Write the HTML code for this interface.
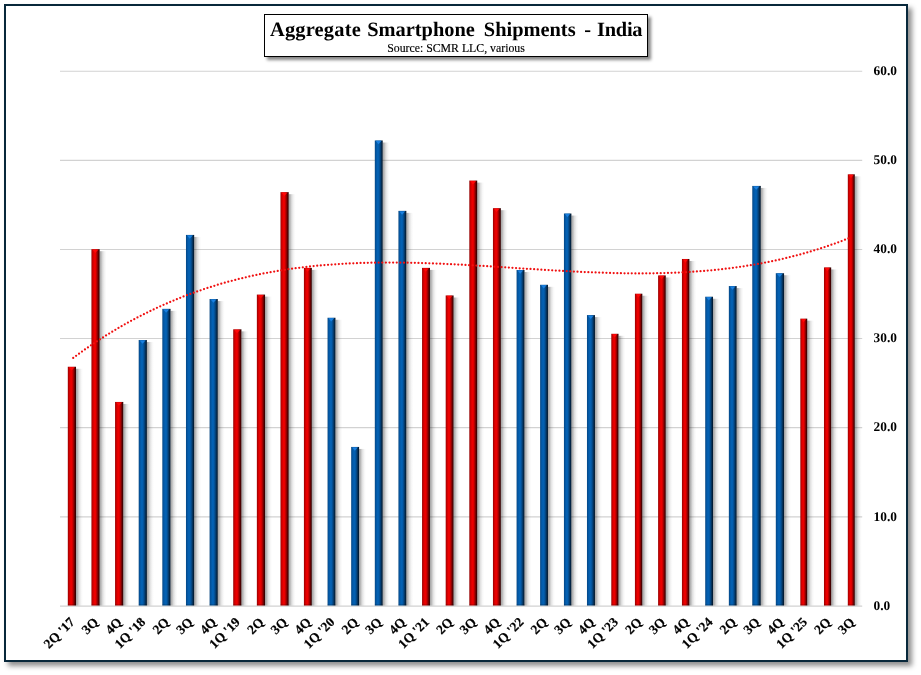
<!DOCTYPE html>
<html><head><meta charset="utf-8"><title>Aggregate Smartphone Shipments - India</title>
<style>
html,body{margin:0;padding:0;background:#fff;}
body{width:921px;height:675px;position:relative;overflow:hidden;font-family:"Liberation Serif",serif;}
#frame{position:absolute;left:4px;top:4px;width:904px;height:658px;box-sizing:border-box;border:2px solid #08283b;background:#fff;box-shadow:4px 4px 5px rgba(0,0,0,0.44);}
#title{position:absolute;left:264px;top:14px;width:384px;height:43px;box-sizing:border-box;border:1.3px solid #000;background:#fff;box-shadow:3px 3px 3px rgba(0,0,0,0.48);text-align:center;}
#title h1{margin:0;text-rendering:geometricPrecision;font-size:20.4px;line-height:24px;font-weight:bold;position:absolute;left:0;right:0;top:3.2px;height:24px;white-space:nowrap;}
#title h1 span{position:absolute;top:0;}
#title p{margin:0;-webkit-text-stroke:0.15px #000;font-size:11.8px;line-height:12px;position:absolute;left:0;right:0;top:27px;white-space:nowrap;}
svg{position:absolute;left:0;top:0;}
</style></head><body>
<div id="frame"></div>
<svg width="921" height="675" viewBox="0 0 921 675">
<defs>
<linearGradient id="gR" x1="0" x2="1" y1="0" y2="0"><stop offset="0" stop-color="#8e0000"/><stop offset="0.13" stop-color="#c40000"/><stop offset="0.36" stop-color="#ee0000"/><stop offset="0.5" stop-color="#e80000"/><stop offset="0.66" stop-color="#b00000"/><stop offset="0.8" stop-color="#740000"/><stop offset="0.92" stop-color="#3e0000"/><stop offset="1" stop-color="#2c0000"/></linearGradient>
<linearGradient id="gB" x1="0" x2="1" y1="0" y2="0"><stop offset="0" stop-color="#04447f"/><stop offset="0.13" stop-color="#04549e"/><stop offset="0.36" stop-color="#0462b4"/><stop offset="0.5" stop-color="#045eae"/><stop offset="0.66" stop-color="#044a8a"/><stop offset="0.8" stop-color="#04335e"/><stop offset="0.92" stop-color="#031e38"/><stop offset="1" stop-color="#02152a"/></linearGradient>
<linearGradient id="gS" x1="0" x2="1" y1="0" y2="0"><stop offset="0" stop-color="#000" stop-opacity="0.36"/><stop offset="0.2" stop-color="#000" stop-opacity="0.28"/><stop offset="0.45" stop-color="#000" stop-opacity="0.12"/><stop offset="0.75" stop-color="#000" stop-opacity="0.03"/><stop offset="1" stop-color="#000" stop-opacity="0"/></linearGradient>
<linearGradient id="gT" x1="0" x2="0" y1="0" y2="1"><stop offset="0" stop-color="#000" stop-opacity="0.12"/><stop offset="1" stop-color="#000" stop-opacity="0"/></linearGradient>
</defs>

<g stroke="#d2d2d2" stroke-width="1.1">
<line x1="60" x2="862.2" y1="606.15" y2="606.15"/>
<line x1="60" x2="862.2" y1="516.90" y2="516.90"/>
<line x1="60" x2="862.2" y1="427.60" y2="427.60"/>
<line x1="60" x2="862.2" y1="338.45" y2="338.45"/>
<line x1="60" x2="862.2" y1="249.50" y2="249.50"/>
<line x1="60" x2="862.2" y1="160.40" y2="160.40"/>
<line x1="60" x2="862.2" y1="71.25" y2="71.25"/>
</g>
<rect x="76.02" y="368.77" width="7" height="236.73" fill="url(#gS)"/>
<rect x="67.81" y="366.77" width="8.2" height="238.73" fill="url(#gR)"/>
<path d="M68.61 367.07 L74.81 367.07 L71.61 370.57 Z" fill="#ff0808"/>
<rect x="67.81" y="366.77" width="8.2" height="1.2" fill="url(#gT)"/>
<rect x="67.81" y="604.30" width="8.2" height="1.2" fill="#000" fill-opacity="0.2"/>
<rect x="99.64" y="251.18" width="7" height="354.32" fill="url(#gS)"/>
<rect x="91.44" y="249.18" width="8.2" height="356.32" fill="url(#gR)"/>
<path d="M92.24 249.48 L98.44 249.48 L95.24 252.98 Z" fill="#ff0808"/>
<rect x="91.44" y="249.18" width="8.2" height="1.2" fill="url(#gT)"/>
<rect x="91.44" y="604.30" width="8.2" height="1.2" fill="#000" fill-opacity="0.2"/>
<rect x="123.27" y="403.95" width="7" height="201.55" fill="url(#gS)"/>
<rect x="115.07" y="401.95" width="8.2" height="203.55" fill="url(#gR)"/>
<path d="M115.87 402.25 L122.07 402.25 L118.87 405.75 Z" fill="#ff0808"/>
<rect x="115.07" y="401.95" width="8.2" height="1.2" fill="url(#gT)"/>
<rect x="115.07" y="604.30" width="8.2" height="1.2" fill="#000" fill-opacity="0.2"/>
<rect x="146.90" y="342.04" width="7" height="263.46" fill="url(#gS)"/>
<rect x="138.70" y="340.04" width="8.2" height="265.46" fill="url(#gB)"/>
<path d="M139.50 340.34 L145.70 340.34 L142.50 343.84 Z" fill="#1a80e0"/>
<rect x="138.70" y="340.04" width="8.2" height="1.2" fill="url(#gT)"/>
<rect x="138.70" y="604.30" width="8.2" height="1.2" fill="#000" fill-opacity="0.2"/>
<rect x="170.53" y="310.86" width="7" height="294.64" fill="url(#gS)"/>
<rect x="162.33" y="308.86" width="8.2" height="296.64" fill="url(#gB)"/>
<path d="M163.13 309.16 L169.33 309.16 L166.13 312.66 Z" fill="#1a80e0"/>
<rect x="162.33" y="308.86" width="8.2" height="1.2" fill="url(#gT)"/>
<rect x="162.33" y="604.30" width="8.2" height="1.2" fill="#000" fill-opacity="0.2"/>
<rect x="194.16" y="236.93" width="7" height="368.57" fill="url(#gS)"/>
<rect x="185.97" y="234.93" width="8.2" height="370.57" fill="url(#gB)"/>
<path d="M186.77 235.23 L192.97 235.23 L189.76 238.73 Z" fill="#1a80e0"/>
<rect x="185.97" y="234.93" width="8.2" height="1.2" fill="url(#gT)"/>
<rect x="185.97" y="604.30" width="8.2" height="1.2" fill="#000" fill-opacity="0.2"/>
<rect x="217.79" y="301.06" width="7" height="304.44" fill="url(#gS)"/>
<rect x="209.59" y="299.06" width="8.2" height="306.44" fill="url(#gB)"/>
<path d="M210.40 299.36 L216.59 299.36 L213.39 302.86 Z" fill="#1a80e0"/>
<rect x="209.59" y="299.06" width="8.2" height="1.2" fill="url(#gT)"/>
<rect x="209.59" y="604.30" width="8.2" height="1.2" fill="#000" fill-opacity="0.2"/>
<rect x="241.42" y="331.35" width="7" height="274.15" fill="url(#gS)"/>
<rect x="233.22" y="329.35" width="8.2" height="276.15" fill="url(#gR)"/>
<path d="M234.03 329.65 L240.22 329.65 L237.02 333.15 Z" fill="#ff0808"/>
<rect x="233.22" y="329.35" width="8.2" height="1.2" fill="url(#gT)"/>
<rect x="233.22" y="604.30" width="8.2" height="1.2" fill="#000" fill-opacity="0.2"/>
<rect x="265.06" y="296.61" width="7" height="308.89" fill="url(#gS)"/>
<rect x="256.86" y="294.61" width="8.2" height="310.89" fill="url(#gR)"/>
<path d="M257.66 294.91 L263.86 294.91 L260.66 298.41 Z" fill="#ff0808"/>
<rect x="256.86" y="294.61" width="8.2" height="1.2" fill="url(#gT)"/>
<rect x="256.86" y="604.30" width="8.2" height="1.2" fill="#000" fill-opacity="0.2"/>
<rect x="288.69" y="194.17" width="7" height="411.33" fill="url(#gS)"/>
<rect x="280.49" y="192.17" width="8.2" height="413.33" fill="url(#gR)"/>
<path d="M281.29 192.47 L287.49 192.47 L284.29 195.97 Z" fill="#ff0808"/>
<rect x="280.49" y="192.17" width="8.2" height="1.2" fill="url(#gT)"/>
<rect x="280.49" y="604.30" width="8.2" height="1.2" fill="#000" fill-opacity="0.2"/>
<rect x="311.81" y="269.89" width="7" height="335.61" fill="url(#gS)"/>
<rect x="303.92" y="267.89" width="7.8999999999999995" height="337.61" fill="url(#gR)"/>
<path d="M304.72 268.19 L310.62 268.19 L307.56 271.69 Z" fill="#ff0808"/>
<rect x="303.92" y="267.89" width="7.8999999999999995" height="1.2" fill="url(#gT)"/>
<rect x="303.92" y="604.30" width="7.8999999999999995" height="1.2" fill="#000" fill-opacity="0.2"/>
<rect x="335.44" y="319.77" width="7" height="285.73" fill="url(#gS)"/>
<rect x="327.55" y="317.77" width="7.8999999999999995" height="287.73" fill="url(#gB)"/>
<path d="M328.35 318.07 L334.25 318.07 L331.19 321.57 Z" fill="#1a80e0"/>
<rect x="327.55" y="317.77" width="7.8999999999999995" height="1.2" fill="url(#gT)"/>
<rect x="327.55" y="604.30" width="7.8999999999999995" height="1.2" fill="#000" fill-opacity="0.2"/>
<rect x="359.07" y="448.94" width="7" height="156.56" fill="url(#gS)"/>
<rect x="351.18" y="446.94" width="7.8999999999999995" height="158.56" fill="url(#gB)"/>
<path d="M351.98 447.24 L357.88 447.24 L354.82 450.74 Z" fill="#1a80e0"/>
<rect x="351.18" y="446.94" width="7.8999999999999995" height="1.2" fill="url(#gT)"/>
<rect x="351.18" y="604.30" width="7.8999999999999995" height="1.2" fill="#000" fill-opacity="0.2"/>
<rect x="382.70" y="142.50" width="7" height="463.00" fill="url(#gS)"/>
<rect x="374.81" y="140.50" width="7.8999999999999995" height="465.00" fill="url(#gB)"/>
<path d="M375.61 140.80 L381.50 140.80 L378.45 144.30 Z" fill="#1a80e0"/>
<rect x="374.81" y="140.50" width="7.8999999999999995" height="1.2" fill="url(#gT)"/>
<rect x="374.81" y="604.30" width="7.8999999999999995" height="1.2" fill="#000" fill-opacity="0.2"/>
<rect x="406.33" y="212.88" width="7" height="392.62" fill="url(#gS)"/>
<rect x="398.44" y="210.88" width="7.8999999999999995" height="394.62" fill="url(#gB)"/>
<path d="M399.24 211.18 L405.13 211.18 L402.08 214.68 Z" fill="#1a80e0"/>
<rect x="398.44" y="210.88" width="7.8999999999999995" height="1.2" fill="url(#gT)"/>
<rect x="398.44" y="604.30" width="7.8999999999999995" height="1.2" fill="#000" fill-opacity="0.2"/>
<rect x="429.96" y="269.89" width="7" height="335.61" fill="url(#gS)"/>
<rect x="422.06" y="267.89" width="7.8999999999999995" height="337.61" fill="url(#gR)"/>
<path d="M422.87 268.19 L428.76 268.19 L425.71 271.69 Z" fill="#ff0808"/>
<rect x="422.06" y="267.89" width="7.8999999999999995" height="1.2" fill="url(#gT)"/>
<rect x="422.06" y="604.30" width="7.8999999999999995" height="1.2" fill="#000" fill-opacity="0.2"/>
<rect x="453.59" y="297.50" width="7" height="308.00" fill="url(#gS)"/>
<rect x="445.69" y="295.50" width="7.8999999999999995" height="310.00" fill="url(#gR)"/>
<path d="M446.50 295.80 L452.39 295.80 L449.34 299.30 Z" fill="#ff0808"/>
<rect x="445.69" y="295.50" width="7.8999999999999995" height="1.2" fill="url(#gT)"/>
<rect x="445.69" y="604.30" width="7.8999999999999995" height="1.2" fill="#000" fill-opacity="0.2"/>
<rect x="477.22" y="182.59" width="7" height="422.91" fill="url(#gS)"/>
<rect x="469.32" y="180.59" width="7.8999999999999995" height="424.91" fill="url(#gR)"/>
<path d="M470.12 180.89 L476.02 180.89 L472.97 184.39 Z" fill="#ff0808"/>
<rect x="469.32" y="180.59" width="7.8999999999999995" height="1.2" fill="url(#gT)"/>
<rect x="469.32" y="604.30" width="7.8999999999999995" height="1.2" fill="#000" fill-opacity="0.2"/>
<rect x="500.85" y="210.20" width="7" height="395.30" fill="url(#gS)"/>
<rect x="492.95" y="208.20" width="7.8999999999999995" height="397.30" fill="url(#gR)"/>
<path d="M493.75 208.50 L499.65 208.50 L496.60 212.00 Z" fill="#ff0808"/>
<rect x="492.95" y="208.20" width="7.8999999999999995" height="1.2" fill="url(#gT)"/>
<rect x="492.95" y="604.30" width="7.8999999999999995" height="1.2" fill="#000" fill-opacity="0.2"/>
<rect x="524.48" y="272.02" width="7" height="333.48" fill="url(#gS)"/>
<rect x="516.58" y="270.02" width="7.8999999999999995" height="335.48" fill="url(#gB)"/>
<path d="M517.38 270.32 L523.28 270.32 L520.24 273.82 Z" fill="#1a80e0"/>
<rect x="516.58" y="270.02" width="7.8999999999999995" height="1.2" fill="url(#gT)"/>
<rect x="516.58" y="604.30" width="7.8999999999999995" height="1.2" fill="#000" fill-opacity="0.2"/>
<rect x="547.97" y="286.81" width="7" height="318.69" fill="url(#gS)"/>
<rect x="540.12" y="284.81" width="7.849999999999999" height="320.69" fill="url(#gB)"/>
<path d="M540.91 285.11 L546.76 285.11 L543.74 288.61 Z" fill="#1a80e0"/>
<rect x="540.12" y="284.81" width="7.849999999999999" height="1.2" fill="url(#gT)"/>
<rect x="540.12" y="604.30" width="7.849999999999999" height="1.2" fill="#000" fill-opacity="0.2"/>
<rect x="571.39" y="215.55" width="7" height="389.95" fill="url(#gS)"/>
<rect x="563.94" y="213.55" width="7.449999999999999" height="391.95" fill="url(#gB)"/>
<path d="M564.74 213.85 L570.19 213.85 L567.37 217.35 Z" fill="#1a80e0"/>
<rect x="563.94" y="213.55" width="7.449999999999999" height="1.2" fill="url(#gT)"/>
<rect x="563.94" y="604.30" width="7.449999999999999" height="1.2" fill="#000" fill-opacity="0.2"/>
<rect x="594.97" y="317.10" width="7" height="288.40" fill="url(#gS)"/>
<rect x="586.97" y="315.10" width="7.999999999999999" height="290.40" fill="url(#gB)"/>
<path d="M587.77 315.40 L593.77 315.40 L590.67 318.90 Z" fill="#1a80e0"/>
<rect x="586.97" y="315.10" width="7.999999999999999" height="1.2" fill="url(#gT)"/>
<rect x="586.97" y="604.30" width="7.999999999999999" height="1.2" fill="#000" fill-opacity="0.2"/>
<rect x="618.50" y="335.81" width="7" height="269.69" fill="url(#gS)"/>
<rect x="611.30" y="333.81" width="7.199999999999999" height="271.69" fill="url(#gR)"/>
<path d="M612.10 334.11 L617.30 334.11 L614.61 337.61 Z" fill="#ff0808"/>
<rect x="611.30" y="333.81" width="7.199999999999999" height="1.2" fill="url(#gT)"/>
<rect x="611.30" y="604.30" width="7.199999999999999" height="1.2" fill="#000" fill-opacity="0.2"/>
<rect x="642.33" y="295.72" width="7" height="309.78" fill="url(#gS)"/>
<rect x="634.93" y="293.72" width="7.3999999999999995" height="311.78" fill="url(#gR)"/>
<path d="M635.73 294.02 L641.13 294.02 L638.34 297.52 Z" fill="#ff0808"/>
<rect x="634.93" y="293.72" width="7.3999999999999995" height="1.2" fill="url(#gT)"/>
<rect x="634.93" y="604.30" width="7.3999999999999995" height="1.2" fill="#000" fill-opacity="0.2"/>
<rect x="665.76" y="277.46" width="7" height="328.04" fill="url(#gS)"/>
<rect x="658.11" y="275.46" width="7.6499999999999995" height="330.04" fill="url(#gR)"/>
<path d="M658.91 275.76 L664.56 275.76 L661.64 279.26 Z" fill="#ff0808"/>
<rect x="658.11" y="275.46" width="7.6499999999999995" height="1.2" fill="url(#gT)"/>
<rect x="658.11" y="604.30" width="7.6499999999999995" height="1.2" fill="#000" fill-opacity="0.2"/>
<rect x="689.39" y="260.98" width="7" height="344.52" fill="url(#gS)"/>
<rect x="681.94" y="258.98" width="7.449999999999999" height="346.52" fill="url(#gR)"/>
<path d="M682.74 259.28 L688.19 259.28 L685.37 262.78 Z" fill="#ff0808"/>
<rect x="681.94" y="258.98" width="7.449999999999999" height="1.2" fill="url(#gT)"/>
<rect x="681.94" y="604.30" width="7.449999999999999" height="1.2" fill="#000" fill-opacity="0.2"/>
<rect x="713.02" y="298.75" width="7" height="306.75" fill="url(#gS)"/>
<rect x="705.22" y="296.75" width="7.799999999999999" height="308.75" fill="url(#gB)"/>
<path d="M706.02 297.05 L711.82 297.05 L708.82 300.55 Z" fill="#1a80e0"/>
<rect x="705.22" y="296.75" width="7.799999999999999" height="1.2" fill="url(#gT)"/>
<rect x="705.22" y="604.30" width="7.799999999999999" height="1.2" fill="#000" fill-opacity="0.2"/>
<rect x="736.65" y="288.06" width="7" height="317.44" fill="url(#gS)"/>
<rect x="728.85" y="286.06" width="7.799999999999999" height="319.44" fill="url(#gB)"/>
<path d="M729.65 286.36 L735.45 286.36 L732.45 289.86 Z" fill="#1a80e0"/>
<rect x="728.85" y="286.06" width="7.799999999999999" height="1.2" fill="url(#gT)"/>
<rect x="728.85" y="604.30" width="7.799999999999999" height="1.2" fill="#000" fill-opacity="0.2"/>
<rect x="760.78" y="187.93" width="7" height="417.57" fill="url(#gS)"/>
<rect x="752.28" y="185.93" width="8.5" height="419.57" fill="url(#gB)"/>
<path d="M753.08 186.23 L759.58 186.23 L756.24 189.73 Z" fill="#1a80e0"/>
<rect x="752.28" y="185.93" width="8.5" height="1.2" fill="url(#gT)"/>
<rect x="752.28" y="604.30" width="8.5" height="1.2" fill="#000" fill-opacity="0.2"/>
<rect x="784.06" y="275.23" width="7" height="330.27" fill="url(#gS)"/>
<rect x="775.81" y="273.23" width="8.25" height="332.27" fill="url(#gB)"/>
<path d="M776.61 273.53 L782.86 273.53 L779.64 277.03 Z" fill="#1a80e0"/>
<rect x="775.81" y="273.23" width="8.25" height="1.2" fill="url(#gT)"/>
<rect x="775.81" y="604.30" width="8.25" height="1.2" fill="#000" fill-opacity="0.2"/>
<rect x="807.24" y="320.66" width="7" height="284.84" fill="url(#gS)"/>
<rect x="800.34" y="318.66" width="6.8999999999999995" height="286.84" fill="url(#gR)"/>
<path d="M801.14 318.96 L806.04 318.96 L803.50 322.46 Z" fill="#ff0808"/>
<rect x="800.34" y="318.66" width="6.8999999999999995" height="1.2" fill="url(#gT)"/>
<rect x="800.34" y="604.30" width="6.8999999999999995" height="1.2" fill="#000" fill-opacity="0.2"/>
<rect x="831.18" y="269.44" width="7" height="336.06" fill="url(#gS)"/>
<rect x="823.98" y="267.44" width="7.199999999999999" height="338.06" fill="url(#gR)"/>
<path d="M824.77 267.74 L829.98 267.74 L827.28 271.24 Z" fill="#ff0808"/>
<rect x="823.98" y="267.44" width="7.199999999999999" height="1.2" fill="url(#gT)"/>
<rect x="823.98" y="604.30" width="7.199999999999999" height="1.2" fill="#000" fill-opacity="0.2"/>
<rect x="854.81" y="176.35" width="7" height="429.15" fill="url(#gS)"/>
<rect x="847.81" y="174.35" width="6.999999999999999" height="431.15" fill="url(#gR)"/>
<path d="M848.61 174.65 L853.61 174.65 L851.01 178.15 Z" fill="#ff0808"/>
<rect x="847.81" y="174.35" width="6.999999999999999" height="1.2" fill="url(#gT)"/>
<rect x="847.81" y="604.30" width="6.999999999999999" height="1.2" fill="#000" fill-opacity="0.2"/>
<path d="M71.81 358.93 L74.18 357.18 L76.54 355.45 L78.90 353.73 L81.27 352.04 L83.63 350.37 L85.99 348.72 L88.36 347.08 L90.72 345.47 L93.08 343.88 L95.44 342.30 L97.81 340.75 L100.17 339.21 L102.53 337.70 L104.90 336.20 L107.26 334.72 L109.62 333.26 L111.99 331.82 L114.35 330.40 L116.71 329.00 L119.07 327.61 L121.44 326.24 L123.80 324.90 L126.16 323.57 L128.53 322.25 L130.89 320.96 L133.25 319.68 L135.62 318.42 L137.98 317.18 L140.34 315.95 L142.70 314.75 L145.07 313.56 L147.43 312.38 L149.79 311.23 L152.16 310.09 L154.52 308.97 L156.88 307.86 L159.25 306.77 L161.61 305.70 L163.97 304.64 L166.33 303.60 L168.70 302.58 L171.06 301.57 L173.42 300.58 L175.79 299.60 L178.15 298.64 L180.51 297.69 L182.88 296.76 L185.24 295.85 L187.60 294.95 L189.97 294.06 L192.33 293.19 L194.69 292.34 L197.05 291.50 L199.42 290.68 L201.78 289.86 L204.14 289.07 L206.51 288.29 L208.87 287.52 L211.23 286.77 L213.59 286.03 L215.96 285.30 L218.32 284.59 L220.68 283.89 L223.05 283.21 L225.41 282.54 L227.77 281.88 L230.14 281.23 L232.50 280.60 L234.86 279.99 L237.22 279.38 L239.59 278.79 L241.95 278.21 L244.31 277.64 L246.68 277.09 L249.04 276.54 L251.40 276.01 L253.77 275.50 L256.13 274.99 L258.49 274.50 L260.86 274.02 L263.22 273.54 L265.58 273.09 L267.94 272.64 L270.31 272.20 L272.67 271.78 L275.03 271.37 L277.40 270.96 L279.76 270.57 L282.12 270.19 L284.49 269.82 L286.85 269.46 L289.21 269.11 L291.57 268.78 L293.94 268.45 L296.30 268.13 L298.66 267.82 L301.03 267.53 L303.39 267.24 L305.75 266.96 L308.12 266.69 L310.48 266.43 L312.84 266.18 L315.20 265.94 L317.57 265.71 L319.93 265.49 L322.29 265.28 L324.66 265.08 L327.02 264.88 L329.38 264.69 L331.75 264.52 L334.11 264.35 L336.47 264.19 L338.83 264.03 L341.20 263.89 L343.56 263.75 L345.92 263.62 L348.29 263.50 L350.65 263.39 L353.01 263.28 L355.38 263.19 L357.74 263.10 L360.10 263.01 L362.46 262.94 L364.83 262.87 L367.19 262.80 L369.55 262.75 L371.92 262.70 L374.28 262.66 L376.64 262.62 L379.00 262.59 L381.37 262.57 L383.73 262.55 L386.09 262.54 L388.46 262.54 L390.82 262.54 L393.18 262.54 L395.55 262.55 L397.91 262.57 L400.27 262.59 L402.63 262.62 L405.00 262.66 L407.36 262.70 L409.72 262.74 L412.09 262.79 L414.45 262.84 L416.81 262.90 L419.18 262.96 L421.54 263.03 L423.90 263.10 L426.26 263.17 L428.63 263.25 L430.99 263.33 L433.35 263.42 L435.72 263.51 L438.08 263.61 L440.44 263.70 L442.81 263.81 L445.17 263.91 L447.53 264.02 L449.89 264.13 L452.26 264.24 L454.62 264.36 L456.98 264.48 L459.35 264.60 L461.71 264.73 L464.07 264.85 L466.44 264.98 L468.80 265.12 L471.16 265.25 L473.52 265.39 L475.89 265.52 L478.25 265.66 L480.61 265.81 L482.98 265.95 L485.34 266.09 L487.70 266.24 L490.07 266.39 L492.43 266.53 L494.79 266.68 L497.15 266.83 L499.52 266.98 L501.88 267.14 L504.24 267.29 L506.61 267.44 L508.97 267.59 L511.33 267.75 L513.70 267.90 L516.06 268.05 L518.42 268.21 L520.78 268.36 L523.15 268.51 L525.51 268.67 L527.87 268.82 L530.24 268.97 L532.60 269.12 L534.96 269.27 L537.33 269.42 L539.69 269.57 L542.05 269.71 L544.41 269.86 L546.78 270.00 L549.14 270.15 L551.50 270.29 L553.87 270.43 L556.23 270.56 L558.59 270.70 L560.96 270.83 L563.32 270.97 L565.68 271.09 L568.04 271.22 L570.41 271.35 L572.77 271.47 L575.13 271.59 L577.50 271.70 L579.86 271.82 L582.22 271.93 L584.59 272.03 L586.95 272.14 L589.31 272.24 L591.67 272.34 L594.04 272.43 L596.40 272.52 L598.76 272.61 L601.13 272.69 L603.49 272.77 L605.85 272.84 L608.22 272.91 L610.58 272.98 L612.94 273.04 L615.30 273.10 L617.67 273.15 L620.03 273.20 L622.39 273.24 L624.76 273.28 L627.12 273.31 L629.48 273.34 L631.85 273.36 L634.21 273.37 L636.57 273.39 L638.93 273.39 L641.30 273.39 L643.66 273.38 L646.02 273.37 L648.39 273.35 L650.75 273.33 L653.11 273.30 L655.48 273.26 L657.84 273.22 L660.20 273.17 L662.56 273.11 L664.93 273.05 L667.29 272.98 L669.65 272.90 L672.02 272.82 L674.38 272.72 L676.74 272.62 L679.11 272.52 L681.47 272.40 L683.83 272.28 L686.19 272.15 L688.56 272.01 L690.92 271.87 L693.28 271.71 L695.65 271.55 L698.01 271.38 L700.37 271.20 L702.74 271.01 L705.10 270.81 L707.46 270.61 L709.82 270.39 L712.19 270.17 L714.55 269.94 L716.91 269.70 L719.28 269.45 L721.64 269.19 L724.00 268.92 L726.37 268.64 L728.73 268.35 L731.09 268.05 L733.45 267.74 L735.82 267.42 L738.18 267.09 L740.54 266.75 L742.91 266.40 L745.27 266.04 L747.63 265.67 L750.00 265.28 L752.36 264.89 L754.72 264.49 L757.08 264.07 L759.45 263.65 L761.81 263.21 L764.17 262.76 L766.54 262.30 L768.90 261.83 L771.26 261.34 L773.63 260.85 L775.99 260.34 L778.35 259.82 L780.71 259.29 L783.08 258.74 L785.44 258.18 L787.80 257.61 L790.17 257.03 L792.53 256.44 L794.89 255.83 L797.26 255.21 L799.62 254.58 L801.98 253.93 L804.34 253.27 L806.71 252.60 L809.07 251.91 L811.43 251.21 L813.80 250.50 L816.16 249.77 L818.52 249.03 L820.89 248.27 L823.25 247.50 L825.61 246.72 L827.98 245.92 L830.34 245.10 L832.70 244.28 L835.06 243.43 L837.43 242.58 L839.79 241.70 L842.15 240.82 L844.52 239.91 L846.88 239.00 L849.24 238.06 L851.61 237.12" fill="none" stroke="#f01010" stroke-width="2.25" stroke-linecap="round" stroke-dasharray="0 3.62" stroke-dashoffset="1.9"/>
<g font-family="Liberation Serif, serif" font-weight="bold" font-size="13.35px" text-rendering="geometricPrecision" fill="#000">
<text transform="translate(873.6 610.1)">0.0</text>
<text transform="translate(873.6 520.5)">10.0</text>
<text transform="translate(873.6 431.4)">20.0</text>
<text transform="translate(873.6 342.4)">30.0</text>
<text transform="translate(873.6 253.3)">40.0</text>
<text transform="translate(873.6 164.2)">50.0</text>
<text transform="translate(873.6 75.1)">60.0</text>
</g>
<g font-family="Liberation Serif, serif" font-weight="bold" font-size="13.3px" fill="#000" stroke="#000" stroke-width="0.2">
<text transform="translate(75.41 622.9) rotate(-45)" text-anchor="end">2Q '17</text>
<text transform="translate(99.04 622.9) rotate(-45)" text-anchor="end">3Q</text>
<text transform="translate(122.67 622.9) rotate(-45)" text-anchor="end">4Q</text>
<text transform="translate(146.30 622.9) rotate(-45)" text-anchor="end">1Q '18</text>
<text transform="translate(169.93 622.9) rotate(-45)" text-anchor="end">2Q</text>
<text transform="translate(193.56 622.9) rotate(-45)" text-anchor="end">3Q</text>
<text transform="translate(217.19 622.9) rotate(-45)" text-anchor="end">4Q</text>
<text transform="translate(240.82 622.9) rotate(-45)" text-anchor="end">1Q '19</text>
<text transform="translate(264.46 622.9) rotate(-45)" text-anchor="end">2Q</text>
<text transform="translate(288.09 622.9) rotate(-45)" text-anchor="end">3Q</text>
<text transform="translate(311.72 622.9) rotate(-45)" text-anchor="end">4Q</text>
<text transform="translate(335.35 622.9) rotate(-45)" text-anchor="end">1Q '20</text>
<text transform="translate(358.98 622.9) rotate(-45)" text-anchor="end">2Q</text>
<text transform="translate(382.61 622.9) rotate(-45)" text-anchor="end">3Q</text>
<text transform="translate(406.24 622.9) rotate(-45)" text-anchor="end">4Q</text>
<text transform="translate(429.87 622.9) rotate(-45)" text-anchor="end">1Q '21</text>
<text transform="translate(453.50 622.9) rotate(-45)" text-anchor="end">2Q</text>
<text transform="translate(477.12 622.9) rotate(-45)" text-anchor="end">3Q</text>
<text transform="translate(500.75 622.9) rotate(-45)" text-anchor="end">4Q</text>
<text transform="translate(524.38 622.9) rotate(-45)" text-anchor="end">1Q '22</text>
<text transform="translate(548.01 622.9) rotate(-45)" text-anchor="end">2Q</text>
<text transform="translate(571.64 622.9) rotate(-45)" text-anchor="end">3Q</text>
<text transform="translate(595.27 622.9) rotate(-45)" text-anchor="end">4Q</text>
<text transform="translate(618.90 622.9) rotate(-45)" text-anchor="end">1Q '23</text>
<text transform="translate(642.53 622.9) rotate(-45)" text-anchor="end">2Q</text>
<text transform="translate(666.16 622.9) rotate(-45)" text-anchor="end">3Q</text>
<text transform="translate(689.79 622.9) rotate(-45)" text-anchor="end">4Q</text>
<text transform="translate(713.42 622.9) rotate(-45)" text-anchor="end">1Q '24</text>
<text transform="translate(737.05 622.9) rotate(-45)" text-anchor="end">2Q</text>
<text transform="translate(760.68 622.9) rotate(-45)" text-anchor="end">3Q</text>
<text transform="translate(784.31 622.9) rotate(-45)" text-anchor="end">4Q</text>
<text transform="translate(807.94 622.9) rotate(-45)" text-anchor="end">1Q '25</text>
<text transform="translate(831.58 622.9) rotate(-45)" text-anchor="end">2Q</text>
<text transform="translate(855.21 622.9) rotate(-45)" text-anchor="end">3Q</text>
</g>
</svg>
<div id="title"><h1><span style="left:5px;letter-spacing:0.2px">Aggregate</span> <span style="left:102.2px">Smartphone</span> <span style="left:218.8px">Shipments</span> <span style="left:319.2px">-</span> <span style="left:331.9px;letter-spacing:-0.2px">India</span></h1><p>Source: SCMR LLC, various</p></div>
</body></html>
